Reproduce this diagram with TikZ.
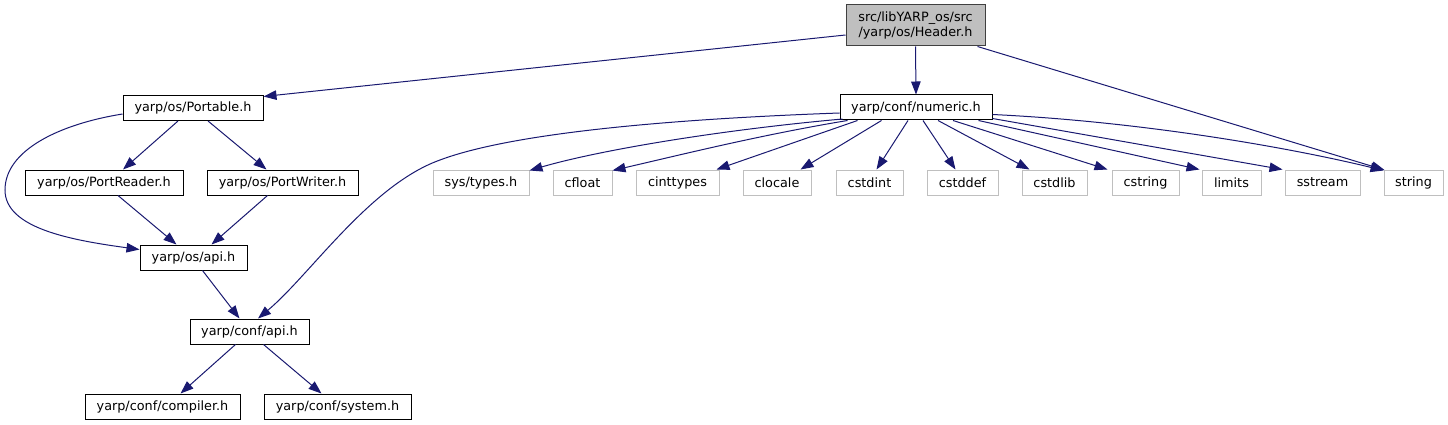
\documentclass[tikz,border=0pt]{standalone}
\usepackage{fontspec}
\setmainfont{DejaVu Sans}
\usetikzlibrary{arrows.meta,calc}
\definecolor{edgeblue}{HTML}{191970}
\definecolor{greyfill}{HTML}{BFBFBF}
\definecolor{greyline}{HTML}{BFBFBF}
\definecolor{rootline}{HTML}{404040}
\begin{document}
\begin{tikzpicture}[x=1pt,y=-1pt,
  every node/.style={font=\fontsize{12.8}{15}\selectfont},
  box/.style={draw=black, line width=1pt, fill=white, minimum height=25pt, inner sep=0pt},
  ext/.style={box, draw=greyline},
  root/.style={box, draw=rootline, fill=greyfill, minimum height=41pt, align=center},
  e/.style={draw=edgeblue, line width=1pt, -{Triangle[length=13pt,width=9.5pt,fill=edgeblue]}}]
\useasboundingbox (0,0) rectangle (1448,425);
% nodes
\node[root, minimum width=139pt] (header) at (915.5,25.5) {src/libYARP\_os/src\\/yarp/os/Header.h};
\node[box, minimum width=140pt] (portable) at (193,108) {yarp/os/Portable.h};
\node[box, minimum width=152pt] (numeric) at (916,107.5) {yarp/conf/numeric.h};
\node[box, minimum width=158pt] (portreader) at (104,182.5) {yarp/os/PortReader.h};
\node[box, minimum width=151pt] (portwriter) at (282.5,182.5) {yarp/os/PortWriter.h};
\node[box, minimum width=107pt] (osapi) at (193.5,257.5) {yarp/os/api.h};
\node[box, minimum width=119pt] (confapi) at (249.5,331.5) {yarp/conf/api.h};
\node[box, minimum width=155pt] (compiler) at (162.5,406.5) {yarp/conf/compiler.h};
\node[box, minimum width=147pt] (system) at (337.5,406.5) {yarp/conf/system.h};
\node[ext, minimum width=96pt] (systypes) at (481,182.5) {sys/types.h};
\node[ext, minimum width=59pt] (cfloat) at (582.5,182.5) {cfloat};
\node[ext, minimum width=83pt] (cinttypes) at (677.5,182.5) {cinttypes};
\node[ext, minimum width=68pt] (clocale) at (777,182.5) {clocale};
\node[ext, minimum width=67pt] (cstdint) at (869.5,182.5) {cstdint};
\node[ext, minimum width=71pt] (cstddef) at (962.5,182.5) {cstddef};
\node[ext, minimum width=65pt] (cstdlib) at (1054.5,182.5) {cstdlib};
\node[ext, minimum width=67pt] (cstring) at (1145.5,182.5) {cstring};
\node[ext, minimum width=59pt] (limits) at (1231.5,182.5) {limits};
\node[ext, minimum width=75pt] (sstream) at (1322.5,182.5) {sstream};
\node[ext, minimum width=59pt] (string) at (1413.5,182.5) {string};
% edges from header
\draw[e] ($(header.west)+(0,9.5)$) -- ($(portable.north east)+(0,1.5)$);
\draw[e] (header.south) -- (numeric.north);
\draw[e] ($(header.south east)+(-8,0)$) -- ($(string.north west)+(1,0.5)$);
% portable subtree
\draw[e] ($(portable.south)+(-15,0)$) -- ($(portreader.north)+(19,0)$);
\draw[e] ($(portable.south)+(15,0)$) -- ($(portwriter.north)+(-16,0)$);
\draw[e] ($(portable.west)+(0,6)$) .. controls (60,124) and (5,150) .. (5,190)
  .. controls (5,228) and (70,240) .. ($(osapi.west)+(0,-8)$);
\draw[e] ($(portreader.south)+(14,0)$) -- ($(osapi.north)+(-17,0)$);
\draw[e] ($(portwriter.south)+(-15,0)$) -- ($(osapi.north)+(18,0)$);
\draw[e] ($(osapi.south)+(9,0)$) -- ($(confapi.north)+(-10,0)$);
\draw[e] ($(confapi.south)+(-14,0)$) -- ($(compiler.north)+(18,0)$);
\draw[e] ($(confapi.south)+(14,0)$) -- ($(system.north)+(-16,0)$);
% numeric fan
\draw[e] ($(numeric.west)+(0,5.5)$) .. controls (700,118) and (520,130) .. (440,160)
  .. controls (370,185) and (310,275) .. ($(confapi.north)+(8.5,0)$);
\draw[e] ($(numeric.south west)+(3,-1.5)$) .. controls (720,130) and (600,150) .. ($(systypes.north east)+(0,1)$);
\draw[e] ($(numeric.south west)+(8,0)$) .. controls (760,135) and (680,155) .. ($(cfloat.north east)+(0,1)$);
\draw[e] ($(numeric.south west)+(18,0)$) -- ($(cinttypes.north east)+(-3,0)$);
\draw[e] ($(numeric.south west)+(42,0)$) -- ($(clocale.north east)+(-11,0)$);
\draw[e] ($(numeric.south)+(-8,0)$) -- ($(cstdint.north)+(7,0)$);
\draw[e] ($(numeric.south)+(7,0)$) -- ($(cstddef.north)+(-7,0)$);
\draw[e] ($(numeric.south)+(22,0)$) -- ($(cstdlib.north west)+(8,0)$);
\draw[e] ($(numeric.south)+(37,0)$) -- ($(cstring.north west)+(-4,0)$);
\draw[e] ($(numeric.south east)+(-14,0)$) -- ($(limits.north west)+(-2,0)$);
\draw[e] ($(numeric.east)+(0,11)$) -- ($(sstream.north west)+(-2,0)$);
\draw[e] ($(numeric.east)+(0,7)$) .. controls (1150,122) and (1300,150) .. ($(string.north west)+(0,1)$);
\end{tikzpicture}
\end{document}
